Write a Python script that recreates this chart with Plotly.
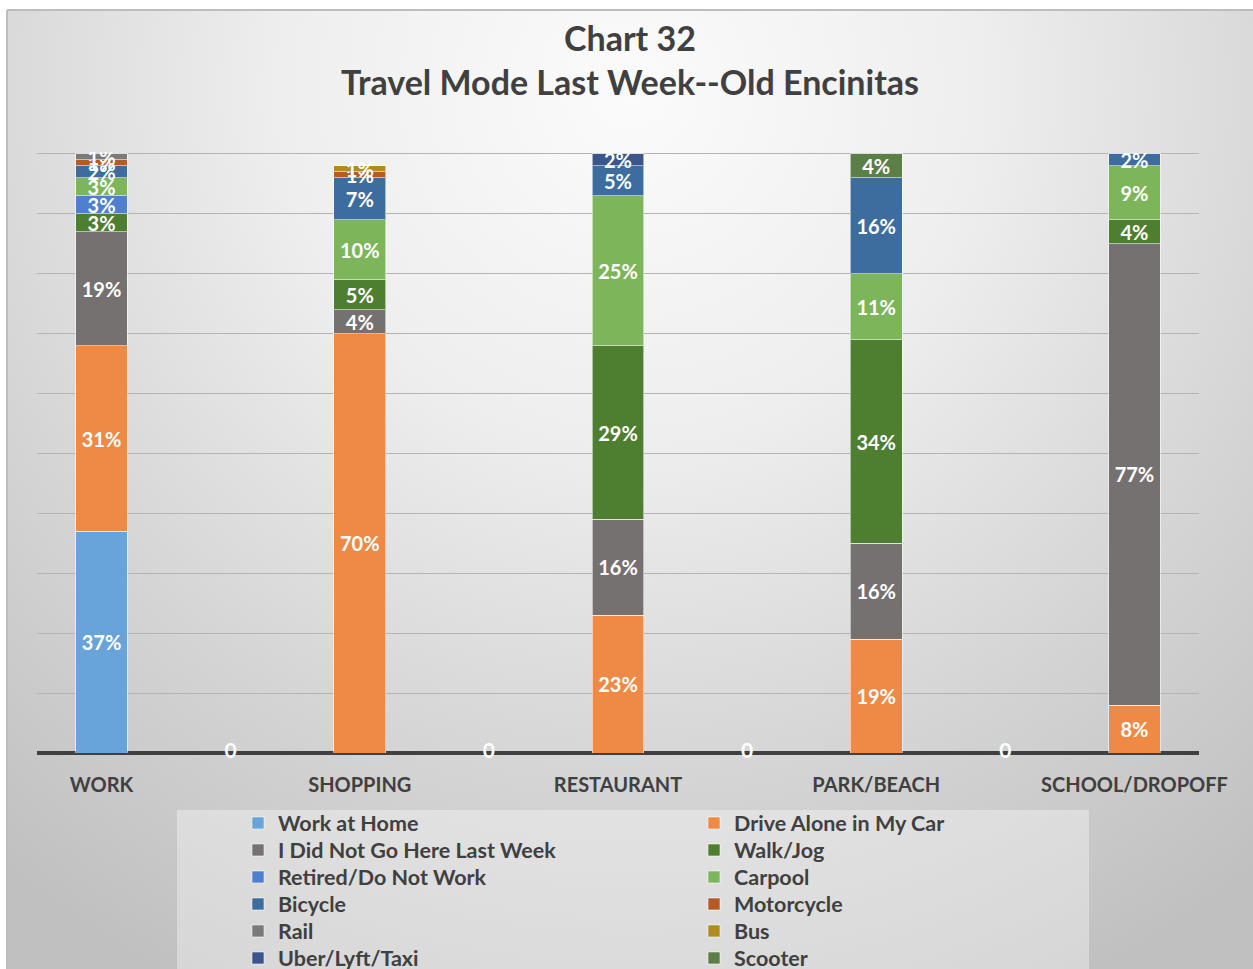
import base64
import plotly.graph_objects as go

# Category slots: real trip purposes sit on even slots, spacer slots between them
categories = ["WORK", "SHOPPING", "RESTAURANT", "PARK/BEACH", "SCHOOL/DROPOFF"]
category_slots = [0, 2, 4, 6, 8]
spacer_slots = [1, 3, 5, 7]
spacer_values = [0, 0, 0, 0]

# Share of respondents (%) by travel mode, per trip purpose
work_at_home = [37, 0, 0, 0, 0]
drive_alone = [31, 70, 23, 19, 8]
did_not_go = [19, 4, 16, 16, 77]
walk_jog = [3, 5, 29, 34, 4]
retired = [3, 0, 0, 0, 0]
carpool = [3, 10, 25, 11, 9]
bicycle = [2, 7, 5, 16, 2]
motorcycle = [1, 1, 0, 0, 0]
rail = [1, 0, 0, 0, 0]
bus = [0, 1, 0, 0, 0]
uber_lyft_taxi = [0, 0, 2, 0, 0]
scooter = [0, 0, 0, 4, 0]

series = [
    ("Work at Home", work_at_home, "#68a3d9"),
    ("Drive Alone in My Car", drive_alone, "#ee8a46"),
    ("I Did Not Go Here Last Week", did_not_go, "#767171"),
    ("Walk/Jog", walk_jog, "#4e7e2f"),
    ("Retired/Do Not Work", retired, "#4f7fcf"),
    ("Carpool", carpool, "#7db65a"),
    ("Bicycle", bicycle, "#3d6d9e"),
    ("Motorcycle", motorcycle, "#b45a25"),
    ("Rail", rail, "#7a7a7a"),
    ("Bus", bus, "#b08c1e"),
    ("Uber/Lyft/Taxi", uber_lyft_taxi, "#3b568a"),
    ("Scooter", scooter, "#5b7f46"),
]

FONT = "Lato"
DARK = "#404040"

# plot area in pixels; the value axis runs slightly past 100 so its top gridline shows
Y_MAX = 100.33
plot_l, plot_r, plot_t, plot_b = 37, 1199, 152, 753
pw, ph = plot_r - plot_l, plot_b - plot_t


def px_x(px):
    return (px - plot_l) / pw


def px_y(py):
    return (plot_b - py) / ph


# legend laid out two entries per row, one legend box per row
legend_rows = [823, 850, 877, 904, 931, 958]
legend_ids = ["legend"] + [f"legend{i}" for i in range(2, len(legend_rows) + 1)]

fig = go.Figure()
for i, (name, values, color) in enumerate(series):
    fig.add_trace(go.Bar(
        name=name,
        x=category_slots,
        y=[v if v else None for v in values],
        width=0.4,
        marker=dict(color=color, line=dict(color="rgba(255,255,255,0.55)", width=1)),
        texttemplate="%{y}%",
        textposition="inside",
        insidetextanchor="middle",
        textangle=0,
        constraintext="none",
        textfont=dict(family=FONT, size=20, color="white", weight="bold"),
        hoverinfo="skip",
        legend=legend_ids[i // 2],
    ))

# zero-valued spacer slots keep their "0" data labels on the baseline
fig.add_trace(go.Scatter(
    x=spacer_slots,
    y=spacer_values,
    text=[f"<b>{v}</b>" for v in spacer_values],
    mode="text",
    textposition="middle center",
    textfont=dict(family=FONT, size=21, color="white", weight="bold"),
    showlegend=False,
    cliponaxis=False,
    hoverinfo="skip",
))

# soft radial backdrop behind the whole chart frame
W, H = 1246, 959
svg = f"""<svg xmlns='http://www.w3.org/2000/svg' width='{W}' height='{H}' viewBox='0 0 {W} {H}' preserveAspectRatio='none'>
<defs><radialGradient id='g' gradientUnits='userSpaceOnUse' cx='623' cy='80' r='1000'>
<stop offset='0' stop-color='#fbfbfb'/><stop offset='0.35' stop-color='#eeeeee'/>
<stop offset='0.7' stop-color='#d4d4d4'/><stop offset='1' stop-color='#c0c0c0'/>
</radialGradient></defs><rect width='{W}' height='{H}' fill='url(#g)'/></svg>"""
bg_src = "data:image/svg+xml;base64," + base64.b64encode(svg.encode()).decode()

fig.add_layout_image(dict(
    source=bg_src, xref="paper", yref="paper",
    x=px_x(7), y=px_y(10), sizex=px_x(1253) - px_x(7), sizey=px_y(10) - px_y(969),
    xanchor="left", yanchor="top", sizing="stretch", layer="below",
))

# legend panel and chart frame edges
fig.add_shape(type="rect", xref="paper", yref="paper",
              x0=px_x(177), x1=px_x(1089), y0=px_y(810), y1=px_y(980),
              fillcolor="rgba(255,255,255,0.35)", line=dict(width=0), layer="below")
fig.add_shape(type="line", xref="paper", yref="paper",
              x0=px_x(7), x1=px_x(1253), y0=px_y(10), y1=px_y(10),
              line=dict(color="#bdbdbd", width=2), layer="below")
fig.add_shape(type="line", xref="paper", yref="paper",
              x0=px_x(7), x1=px_x(7), y0=px_y(10), y1=px_y(969),
              line=dict(color="#bdbdbd", width=2), layer="below")

legend_common = dict(
    orientation="h",
    x=px_x(238), xanchor="left", yanchor="middle",
    entrywidth=411, entrywidthmode="pixels",
    font=dict(family=FONT, size=21.5, color=DARK, weight="bold"),
    bgcolor="rgba(0,0,0,0)",
    traceorder="normal",
)
legend_layout = {lid: dict(legend_common, y=px_y(row)) for lid, row in zip(legend_ids, legend_rows)}

fig.update_layout(
    width=1253, height=969,
    margin=dict(l=plot_l, r=1253 - plot_r, t=plot_t, b=969 - plot_b, autoexpand=False),
    paper_bgcolor="white",
    plot_bgcolor="rgba(0,0,0,0)",
    barmode="stack",
    uniformtext=dict(minsize=20, mode="show"),
    title=dict(
        text="Chart 32<br>Travel Mode Last Week--Old Encinitas",
        x=630 / 1253, xanchor="center", y=1 - 51 / 969, yanchor="middle",
        font=dict(family=FONT, size=34, color=DARK, weight="bold"),
    ),
    xaxis=dict(
        range=[-0.5, 8.5],
        tickvals=category_slots,
        ticktext=categories,
        showgrid=False, zeroline=False, showline=False, ticks="",
        tickfont=dict(family=FONT, size=20, color=DARK, weight="bold"),
        ticklabelstandoff=18,
    ),
    yaxis=dict(
        range=[0, Y_MAX], tick0=0, dtick=10,
        showticklabels=False, ticks="",
        showgrid=True, gridcolor="#b4b4b4", gridwidth=1,
        zeroline=True, zerolinecolor=DARK, zerolinewidth=4,
    ),
    showlegend=True,
    **legend_layout,
)

fig.write_html("out.html")
